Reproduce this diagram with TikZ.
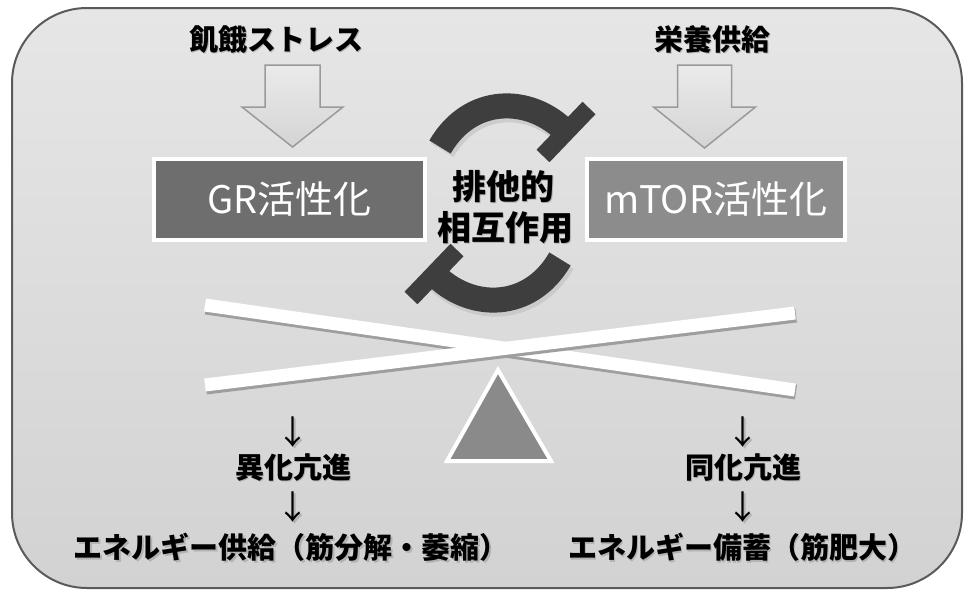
\documentclass[tikz,border=0pt]{standalone}
\usepackage{fontspec}
\newfontfamily\jp{Noto Sans CJK JP}
\usetikzlibrary{calc}
\definecolor{bgtop}{HTML}{E6E6E6}
\definecolor{bgbot}{HTML}{D2D2D2}
\definecolor{frame}{HTML}{5A5A5A}
\definecolor{grfill}{HTML}{6E6E6E}
\definecolor{mtorfill}{HTML}{8C8C8C}
\definecolor{inhib}{HTML}{3E3E3E}
\definecolor{arrfill}{HTML}{D4D4D4}
\definecolor{arrdraw}{HTML}{9A9A9A}
\definecolor{trifill}{HTML}{8A8A8A}
\newcommand{\shd}[1]{\makebox[0pt][l]{\raisebox{-1.6pt}{\hspace{1.6pt}\textcolor{black!30}{#1}}}#1}
\begin{document}
\begin{tikzpicture}[x=1pt,y=-1pt,
  lbl/.style={inner sep=0pt, font=\jp\bfseries\fontsize{29}{29}\selectfont},
  downlbl/.style={inner sep=0pt, font=\jp\fontsize{33}{33}\selectfont},
  midlbl/.style={inner sep=0pt, font=\jp\bfseries\fontsize{34}{34}\selectfont},
  actbox/.style={draw=white, line width=4pt, fill=#1, inner sep=0pt,
    minimum height=81pt, text=white, font=\jp\fontsize{38}{38}\selectfont},
  blockarrow/.style={draw=arrdraw, line width=1.5pt, top color=white!92!black, bottom color=arrfill, line join=miter},
  inhibline/.style={draw=inhib, line width=25pt},
  inhibbar/.style={draw=inhib, line width=18pt},
  inhibshadow/.style={draw=black!25, line width=27pt},
  barshadow/.style={draw=black!38, line width=15pt},
  barwhite/.style={draw=white, line width=13pt},
]
\useasboundingbox (0,0) rectangle (967,592);
% background panel
\draw[draw=frame, line width=2pt, rounded corners=75pt, top color=bgtop, bottom color=bgbot]
  (12,8) rectangle (962,588);

% top labels
\node[lbl] (sL) at (276,40) {\shd{飢餓ストレス}};
\node[lbl] (sR) at (712,40) {\shd{栄養供給}};

% activation boxes
\node[actbox=grfill, minimum width=271pt] (gr) at (289.5,199.5) {GR活性化};
\node[actbox=mtorfill, minimum width=258pt] (mtor) at (716,199.5) {mTOR活性化};

% block arrows
\coordinate (aLtop) at (292.5,65);
\coordinate (aLtip) at (292.5,147);
\coordinate (aRtop) at (704.5,65);
\coordinate (aRtip) at (704.5,148);
\path[blockarrow] (aLtop) ++(-27.5,0) -- ++(55,0) -- ++(0,42) -- ++(23,0) -- (aLtip)
   -- ++(-50.5,-40) -- ++(23,0) -- cycle;
\path[blockarrow] (aRtop) ++(-27,0) -- ++(54,0) -- ++(0,42) -- ++(24,0) -- (aRtip)
   -- ++(-51,-41) -- ++(24,0) -- cycle;

% mutual inhibition arcs
\coordinate (t1) at (440,147);
\coordinate (t2) at (566,132);
\coordinate (b1) at (560,259);
\coordinate (b2) at (434,274);
\draw[inhibshadow, opacity=0.6] ([shift={(2,3)}]t1) .. controls ([shift={(2,3)}]470,95) and ([shift={(2,3)}]530,95) .. ([shift={(2,3)}]t2);
\draw[inhibshadow, opacity=0.6] ([shift={(2,3)}]b1) .. controls ([shift={(2,3)}]530,311) and ([shift={(2,3)}]470,311) .. ([shift={(2,3)}]b2);
\draw[inhibline] (t1) .. controls (470,95) and (530,95) .. (t2);
\draw[inhibbar] ($(t2)+(23,-24)$) -- ($(t2)+(-23,24)$);
\draw[inhibline] (b1) .. controls (530,311) and (470,311) .. (b2);
\draw[inhibbar] ($(b2)+(-23,24)$) -- ($(b2)+(23,-24)$);

% centre label
\node[midlbl] (ex1) at (503,187) {\shd{排他的}};
\node[midlbl] (ex2) at (505,228) {\shd{相互作用}};

% seesaw bars
\draw[barshadow] (206,307) -- (796,392);
\draw[barwhite] (205,305) -- (795,390);
\draw[barshadow] (206,387) -- (796,315);
\draw[barwhite] (205,385) -- (795,313);

% fulcrum
\draw[draw=white, line width=4pt, fill=trifill, line join=miter] (498,370) -- (551,461) -- (447,461) -- cycle;

% bottom labels
\node[downlbl] (dL1) at (293,433) {\shd{↓}};
\node[lbl] (cat) at (293,468) {\shd{異化亢進}};
\node[downlbl] (dL2) at (293,508) {\shd{↓}};
\node[lbl] (eL) at (291,548) {\shd{エネルギー供給（筋分解・萎縮）}};
\node[downlbl] (dR1) at (743,433) {\shd{↓}};
\node[lbl] (ana) at (743,468) {\shd{同化亢進}};
\node[downlbl] (dR2) at (743,508) {\shd{↓}};
\node[lbl] (eR) at (742,548) {\shd{エネルギー備蓄（筋肥大）}};
\end{tikzpicture}
\end{document}
